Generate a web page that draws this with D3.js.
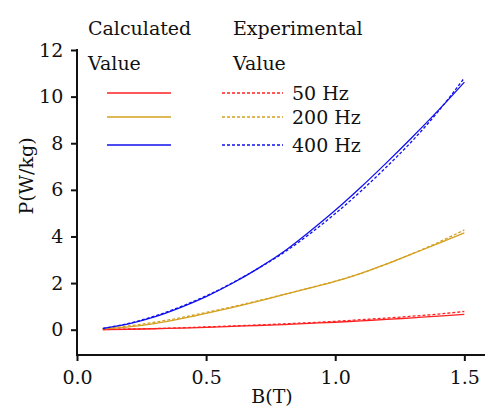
<!DOCTYPE html>
<html>
<head>
<meta charset="utf-8">
<script src="https://cdn.jsdelivr.net/npm/d3@7"></script>
<style>
  body { margin: 0; background: #fff; }
  text { font-family: "DejaVu Serif", serif; fill: #111; }
</style>
</head>
<body>
<div id="chart"></div>
<script>
// B values (T)
var bVals = [0.1, 0.2, 0.3, 0.4, 0.5, 0.6, 0.7, 0.8, 0.9, 1.0, 1.1, 1.2, 1.3, 1.4, 1.5];

// calculated losses (W/kg)
var calc50  = [0.00, 0.02, 0.04, 0.07, 0.10, 0.14, 0.18, 0.22, 0.27, 0.32, 0.38, 0.44, 0.51, 0.58, 0.66];
var calc200 = [0.03, 0.12, 0.26, 0.46, 0.70, 0.95, 1.22, 1.50, 1.78, 2.07, 2.42, 2.82, 3.26, 3.70, 4.15];
var calc400 = [0.06, 0.25, 0.55, 0.95, 1.42, 1.98, 2.62, 3.34, 4.20, 5.12, 6.12, 7.18, 8.28, 9.42, 10.62];

// experimental losses (W/kg)
var exp50  = [0.00, 0.03, 0.05, 0.08, 0.12, 0.16, 0.20, 0.25, 0.30, 0.36, 0.43, 0.50, 0.58, 0.67, 0.78];
var exp200 = [0.04, 0.16, 0.32, 0.51, 0.74, 0.98, 1.24, 1.51, 1.79, 2.08, 2.42, 2.82, 3.27, 3.75, 4.28];
var exp400 = [0.05, 0.27, 0.58, 0.98, 1.45, 2.00, 2.62, 3.30, 4.10, 4.98, 5.95, 7.00, 8.12, 9.38, 10.80];

var seriesNames = ["50 Hz", "200 Hz", "400 Hz"];
var colors = ["#ff2020", "#d4a020", "#1010ee"];
var xTicks = [0.0, 0.5, 1.0, 1.5];
var yTicks = [0, 2, 4, 6, 8, 10, 12];

var W = 486, H = 407;
var FS = 19;
var svg = d3.select("#chart").append("svg")
    .attr("width", W)
    .attr("height", H);

var x = d3.scaleLinear().domain([0, 1.58]).range([77, 485]);
var y = d3.scaleLinear().domain([-1, 12]).range([353, 50]);

var line = d3.line()
    .x(function(d){ return x(d[0]); })
    .y(function(d){ return y(d[1]); })
    .curve(d3.curveMonotoneX);

function pairs(vals){
    return bVals.map(function(b, i){ return [b, vals[i]]; });
}

var calc = [calc50, calc200, calc400];
var exps = [exp50, exp200, exp400];

// curves
calc.forEach(function(v, i){
    svg.append("path")
        .attr("d", line(pairs(v)))
        .attr("fill", "none")
        .attr("stroke", colors[i])
        .attr("stroke-width", 1.3);
});
exps.forEach(function(v, i){
    svg.append("path")
        .attr("d", line(pairs(v)))
        .attr("fill", "none")
        .attr("stroke", colors[i])
        .attr("stroke-width", 1.3)
        .attr("stroke-dasharray", "3,2");
});

// x axis
var xAxis = svg.append("g").attr("transform", "translate(0," + 355 + ")");
xAxis.call(d3.axisBottom(x).tickValues(d3.range(0, 1.6, 0.25)).tickSize(3).tickFormat(""));
xAxis.call(d3.axisBottom(x).tickValues(xTicks).tickSize(6).tickFormat(d3.format(".1f")));
xAxis.selectAll(".domain").remove();
xAxis.append("line").attr("x1", 76).attr("x2", 485).attr("stroke", "#111").attr("stroke-width", 2);
xAxis.selectAll(".tick line").attr("stroke", "#111").attr("stroke-width", 2);
xAxis.selectAll("text").attr("font-size", FS).attr("dy", "1.05em").attr("font-family", "DejaVu Serif").attr("fill", "#111");

// y axis
var yAxis = svg.append("g").attr("transform", "translate(77,0)");
yAxis.call(d3.axisLeft(y).tickValues(d3.range(-1, 12.5, 1)).tickSize(3).tickFormat(""));
yAxis.call(d3.axisLeft(y).tickValues(yTicks).tickSize(6).tickFormat(d3.format("d")));
yAxis.selectAll(".domain").remove();
yAxis.append("line").attr("y1", 49).attr("y2", 356).attr("stroke", "#111").attr("stroke-width", 2);
yAxis.selectAll(".tick line").attr("stroke", "#111").attr("stroke-width", 2);
yAxis.selectAll("text").attr("font-size", FS).attr("dx", "-0.25em").attr("font-family", "DejaVu Serif").attr("fill", "#111");

// axis titles
svg.append("text").attr("x", 272).attr("y", 403).attr("text-anchor", "middle")
    .attr("font-size", FS).text("B(T)");
svg.append("text").attr("transform", "translate(33,176) rotate(-90)")
    .attr("text-anchor", "middle").attr("font-size", FS).text("P(W/kg)");

// legend
svg.append("text").attr("x", 88).attr("y", 35).attr("font-size", FS).text("Calculated");
svg.append("text").attr("x", 88).attr("y", 70).attr("font-size", FS).text("Value");
svg.append("text").attr("x", 233).attr("y", 35).attr("font-size", FS).text("Experimental");
svg.append("text").attr("x", 233).attr("y", 70).attr("font-size", FS).text("Value");

var legY = [93, 117, 145];
seriesNames.forEach(function(name, i){
    svg.append("line").attr("x1", 107).attr("x2", 171).attr("y1", legY[i]).attr("y2", legY[i])
        .attr("stroke", colors[i]).attr("stroke-width", 1.3);
    svg.append("line").attr("x1", 222).attr("x2", 283).attr("y1", legY[i]).attr("y2", legY[i])
        .attr("stroke", colors[i]).attr("stroke-width", 1.3).attr("stroke-dasharray", "3,2");
    svg.append("text").attr("x", 292).attr("y", legY[i] + 7).attr("font-size", FS).text(name);
});
</script>
</body>
</html>
